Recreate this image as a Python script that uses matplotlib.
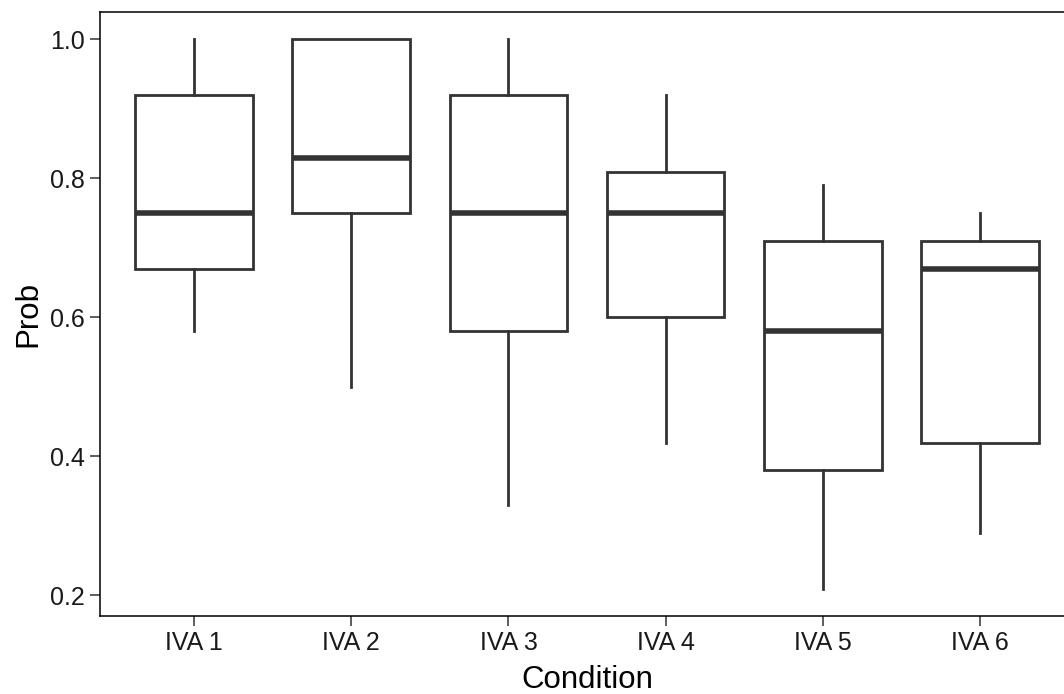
import matplotlib
matplotlib.use("Agg")
import matplotlib.pyplot as plt

# box statistics
conditions = ["IVA 1", "IVA 2", "IVA 3", "IVA 4", "IVA 5", "IVA 6"]
whisker_low = [0.58, 0.50, 0.33, 0.42, 0.21, 0.29]
q1 = [0.67, 0.75, 0.58, 0.60, 0.38, 0.42]
median = [0.75, 0.83, 0.75, 0.75, 0.58, 0.67]
q3 = [0.92, 1.00, 0.92, 0.81, 0.71, 0.71]
whisker_high = [1.00, 1.00, 1.00, 0.92, 0.79, 0.75]

plt.rcParams['font.family'] = ['Liberation Sans', 'DejaVu Sans']
line_col = '#333333'

fig = plt.figure(figsize=(10.64, 6.94), dpi=100)
ax = fig.add_axes([100 / 1064, 1 - 616 / 694, 974 / 1064, 604 / 694])

stats = []
for i, name in enumerate(conditions):
    stats.append({'label': name, 'whislo': whisker_low[i], 'q1': q1[i],
                  'med': median[i], 'q3': q3[i], 'whishi': whisker_high[i],
                  'fliers': []})

positions = list(range(1, len(conditions) + 1))
ax.bxp(stats, positions=positions, widths=0.75, showcaps=False,
       showfliers=False, patch_artist=True,
       boxprops=dict(facecolor='white', edgecolor=line_col, linewidth=2.0),
       whiskerprops=dict(color=line_col, linewidth=2.0),
       medianprops=dict(color=line_col, linewidth=4.0, solid_capstyle='butt'))

ax.set_xlim(0.4, len(conditions) + 0.6)
ax.set_ylim(0.1705, 1.0395)
ax.set_yticks([0.2, 0.4, 0.6, 0.8, 1.0])
ax.set_yticklabels(["0.2", "0.4", "0.6", "0.8", "1.0"])
ax.set_xticks(positions)
ax.set_xticklabels(conditions)

ax.spines['right'].set_visible(False)
for s in ['left', 'bottom', 'top']:
    ax.spines[s].set_linewidth(1.1)
    ax.spines[s].set_color('black')
ax.tick_params(axis='both', length=7, width=1.1, color=line_col,
               labelsize=18, labelcolor='#1a1a1a', pad=4)

ax.set_xlabel("Condition", fontsize=22.5, labelpad=7)
ax.set_ylabel("Prob", fontsize=22.5, labelpad=5)

fig.savefig("out.png", dpi=100)
